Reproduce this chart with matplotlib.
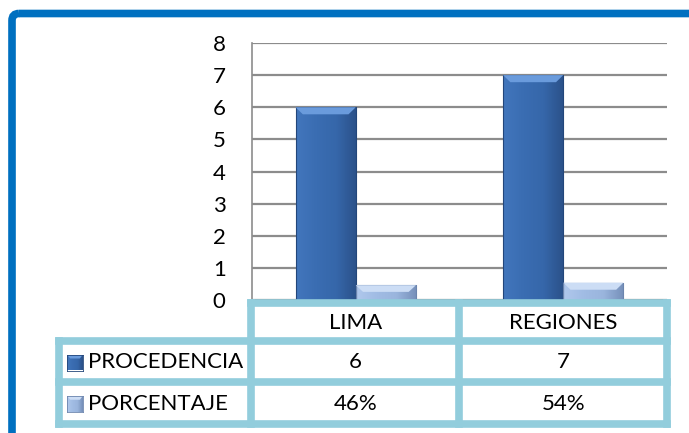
import numpy as np
import matplotlib.pyplot as plt
import matplotlib.transforms as mtransforms
from matplotlib.patches import Rectangle, Polygon, FancyBboxPatch
from matplotlib.lines import Line2D
from matplotlib.colors import LinearSegmentedColormap

# ---- data ----
categories = ["LIMA", "REGIONES"]
series_names = ["PROCEDENCIA", "PORCENTAJE"]
procedencia = [6, 7]
porcentaje = [0.46, 0.54]
procedencia_labels = ["6", "7"]
porcentaje_labels = ["46%", "54%"]
yticks = [0, 1, 2, 3, 4, 5, 6, 7, 8]

# ---- style ----
W, H = 689, 433
plt.rcParams['font.family'] = ['Lato', 'DejaVu Sans']
FS = 16
TABLE_BLUE = "#92CDDC"
FRAME_BLUE = "#0070C0"
GRID_GRAY = "#8c8c8c"

dark_cmap = LinearSegmentedColormap.from_list(
    "dark", ["#4276BC", "#3A6DB2", "#3667AA", "#2B5189"])
light_cmap = LinearSegmentedColormap.from_list(
    "light", ["#B0C8EC", "#A1BCE4", "#9AB5DD", "#7690BA"])
series_styles = [
    (dark_cmap, "#6A9BDC", "#23467A"),
    (light_cmap, "#CCDDF5", "#6B84AD"),
]

fig = plt.figure(figsize=(W / 100, H / 100), dpi=100)
# pixel coordinates (origin top-left) for layout pieces
px = mtransforms.Affine2D().scale(1 / W, -1 / H).translate(0, 1) + fig.transFigure


def fx(p):
    return p / W


def fy(p):
    return 1 - p / H


ax = fig.add_axes([fx(252), fy(300), fx(667) - fx(252), fy(43) - fy(300)])


def gradient_bar(ax, x0, width, height, cmap, bevel_color, edge):
    grad = np.linspace(0, 1, 64).reshape(1, -1)
    im = ax.imshow(grad, cmap=cmap, extent=[x0, x0 + width, 0, height],
                   aspect="auto", zorder=3, interpolation="bicubic")
    rect = Rectangle((x0, 0), width, height, facecolor="none",
                     edgecolor=edge, lw=0.8, zorder=4)
    ax.add_patch(rect)
    im.set_clip_path(rect)
    bx, by = 0.035, min(0.22, height * 0.45)
    ax.add_patch(Polygon([[x0, height], [x0 + width, height],
                          [x0 + width - bx, height - by], [x0 + bx, height - by]],
                         closed=True, facecolor=bevel_color, edgecolor="none",
                         zorder=4))


bar_w = 0.29
x = np.arange(len(categories)) + 0.5
for i, vals in enumerate([procedencia, porcentaje]):
    cmap, bevel, edge = series_styles[i]
    for xc, v in zip(x, vals):
        x0 = xc - bar_w if i == 0 else xc
        gradient_bar(ax, x0, bar_w, v, cmap, bevel, edge)

ax.set_xlim(0, 2)
ax.set_ylim(0, 8)
ax.set_yticks(yticks)
ax.set_xticks([])
ax.yaxis.grid(True, color=GRID_GRAY, lw=1.6)
ax.set_axisbelow(True)
for s in ["top", "right", "bottom"]:
    ax.spines[s].set_visible(False)
ax.spines["left"].set_color(GRID_GRAY)
ax.spines["left"].set_linewidth(1.2)
ax.tick_params(axis="y", length=0, pad=19, labelsize=FS, labelcolor="black")

# ---- data table under the plot ----
lw = 5.5


def seg(x0, y0, x1, y1):
    fig.add_artist(Line2D([x0, x1], [y0, y1], transform=px, color=TABLE_BLUE,
                          lw=lw, solid_capstyle="projecting", zorder=5))


col_x = [251, 459, 667]
row_y = [302.5, 341, 382, 423.5]
left_x = 58.5
seg(col_x[0], row_y[0], col_x[-1], row_y[0])
for yy in row_y[1:]:
    seg(left_x, yy, col_x[-1], yy)
for xx in col_x:
    seg(xx, row_y[0], xx, row_y[-1])
seg(left_x, row_y[1], left_x, row_y[-1])

# column text follows the category positions of the axis
col_tr = mtransforms.blended_transform_factory(ax.transData, px)
row_mid = [(row_y[k] + row_y[k + 1]) / 2 + 1 for k in range(3)]
for xc, cat, a, b in zip(x, categories, procedencia_labels, porcentaje_labels):
    fig.text(xc, row_mid[0], cat, transform=col_tr, ha="center", va="center", fontsize=FS)
    fig.text(xc, row_mid[1], a, transform=col_tr, ha="center", va="center", fontsize=FS)
    fig.text(xc, row_mid[2], b, transform=col_tr, ha="center", va="center", fontsize=FS)

for k, name in enumerate(series_names):
    cmap, bevel, edge = series_styles[k]
    yc = row_mid[k + 1]
    key = fig.add_axes([fx(67), fy(yc + 8), fx(16), fx(16) * W / H])
    key.imshow(np.linspace(0, 1, 32).reshape(1, -1), cmap=cmap, aspect="auto",
               extent=[0, 1, 0, 1])
    key.add_patch(Polygon([[0, 1], [1, 1], [0.8, 0.75], [0.2, 0.75]],
                          facecolor=bevel, edgecolor="none"))
    key.set_xlim(0, 1)
    key.set_ylim(0, 1)
    key.set_xticks([])
    key.set_yticks([])
    for s in key.spines.values():
        s.set_color(edge)
        s.set_linewidth(0.6)
    fig.text(88, yc, name, transform=px, ha="left", va="center", fontsize=FS)

# ---- outer frame ----
fig.add_artist(FancyBboxPatch((12, 13.5), W + 40, H + 40,
                              boxstyle="round,pad=0,rounding_size=7",
                              transform=px, facecolor="none",
                              edgecolor=FRAME_BLUE, lw=5.5, zorder=6))

fig.savefig("out.png", dpi=100)
